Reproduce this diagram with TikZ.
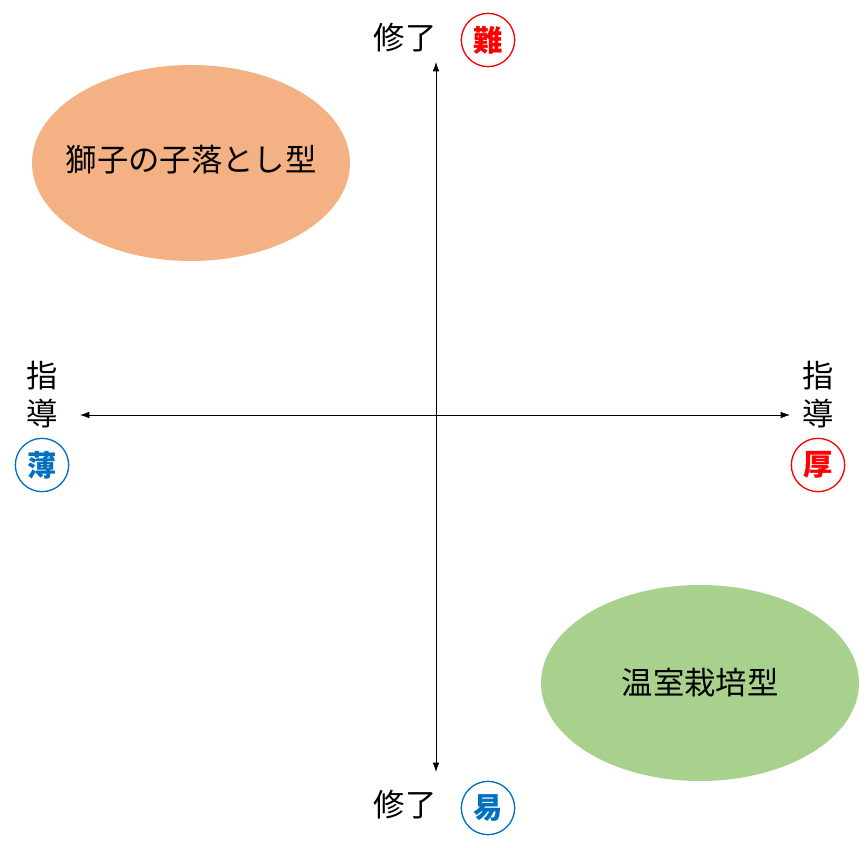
\documentclass[tikz,border=0pt]{standalone}
\usepackage{fontspec}
\setmainfont{Noto Sans CJK JP}
\usetikzlibrary{arrows.meta}
\definecolor{orangeE}{HTML}{F4B183}
\definecolor{greenE}{HTML}{A9D18E}
\definecolor{myred}{HTML}{FF0000}
\definecolor{myblue}{HTML}{0070C0}
\tikzset{
 lbl/.style={font=\fontsize{23.5}{26}\selectfont,inner sep=0pt},
 circ/.style={circle,draw,line width=1pt,minimum size=40pt,inner sep=0pt,font=\fontsize{22}{24}\selectfont\bfseries},
 etxt/.style={font=\fontsize{23.5}{26}\selectfont,inner sep=0pt},
 ax/.style={-{Latex[length=7pt,width=5pt]},line width=0.6pt}
}
\begin{document}
\begin{tikzpicture}[x=0.75pt,y=-0.75pt]
\useasboundingbox (0,0) rectangle (867,848);
\coordinate (c) at (436,415);
\coordinate (t) at (436,62);
\coordinate (b) at (436,772);
\coordinate (l) at (80,415);
\coordinate (r) at (790,415);
\draw[ax] (c) -- (t);
\draw[ax] (c) -- (b);
\draw[ax] (c) -- (l);
\draw[ax] (c) -- (r);
\fill[orangeE] (191,163) ellipse [x radius=159, y radius=98];
\fill[greenE] (700,683) ellipse [x radius=159, y radius=98];
\node[etxt] (e1) at (191,160) {獅子の子落とし型};
\node[etxt] (e2) at (700,683) {温室栽培型};
\node[lbl] (tl) at (405,38) {修了};
\node[circ,draw=myred,text=myred] (tc) at (488,40) {難};
\node[lbl] (bl) at (405,805) {修了};
\node[circ,draw=myblue,text=myblue] (bc) at (488,808) {易};
\node[lbl] (l1) at (42,376) {指};
\node[lbl] (l2) at (42,414) {導};
\node[circ,draw=myblue,text=myblue] (lc) at (42,465) {薄};
\node[lbl] (r1) at (818,376) {指};
\node[lbl] (r2) at (818,414) {導};
\node[circ,draw=myred,text=myred] (rc) at (818,465) {厚};
\end{tikzpicture}
\end{document}
